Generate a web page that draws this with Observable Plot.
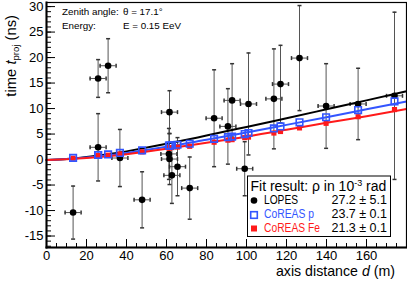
<!DOCTYPE html>
<html><head><meta charset="utf-8">
<script src="https://cdn.jsdelivr.net/npm/d3@7"></script>
<script src="https://cdn.jsdelivr.net/npm/@observablehq/plot@0.6"></script>
<style>
body{margin:0;background:#fff}
#chart{width:407px;height:281px}
svg text{font-family:"Liberation Sans",Arial,Helvetica,sans-serif}
</style>
</head><body><div id="chart"></div>
<script>
// antenna axis distances (m) and their uncertainties
const antennaDist = [13.3, 25.8, 25.8, 30.8, 36.7, 47.8, 61.5, 61.2, 61.5, 62.7, 65.5, 71.6, 83.8, 90.7, 92.8, 99.1, 101, 113.7, 117, 126.5, 139.8, 155.8, 174];
const distErr     = [4, 4, 4, 4, 4, 4, 4, 4, 4, 4, 4, 4, 4, 4, 4, 4, 4, 4, 4, 4, 4, 4, 4];
// LOPES measured times (ns) and uncertainties
const lopesTime = [-10.4, 2.4, 15.9, 18.4, 0.3, -7.9, 9.3, 1.1, 0.1, -3.1, -1.4, -5.6, 8.1, 6.5, 11.6, -1.8, 10.9, 11.9, 14.8, 19.9, 10.5, 10.9, 12.5];
const lopesErr  = [5.2, 6.6, 3.7, 5.3, 5.6, 5.5, 4.2, 5.0, 5.0, 5.5, 5.7, 6.1, 9.5, 7.4, 7.2, 5.3, 10, 9.8, 7.6, 10.3, 8.3, 7.0, 16.4];
// CoREAS simulations
const coreasP  = [0.33, 0.9, 0.9, 1.0, 1.3, 1.8, 2.75, 2.7, 2.75, 2.8, 2.9, 3.1, 4.05, 4.4, 4.5, 5.0, 5.2, 6.1, 6.5, 7.3, 8.3, 9.7, 11.4];
const coreasFe = [0.25, 0.75, 0.75, 0.85, 1.1, 1.5, 2.3, 2.25, 2.3, 2.35, 2.45, 2.6, 3.4, 3.8, 3.9, 4.3, 4.4, 5.2, 5.5, 6.2, 7.1, 8.4, 9.8];
// fitted wavefronts
const fitDist  = [0, 10, 20, 30, 40, 60, 80, 100, 120, 140, 160, 180];
const lopesFit = [-0.1, 0.1, 0.5, 1.0, 1.6, 3.1, 4.7, 6.4, 8.1, 9.85, 11.6, 13.4];
const pFit     = [-0.1, 0.1, 0.4, 0.8, 1.3, 2.5, 3.9, 5.3, 6.8, 8.3, 9.85, 11.4];
const feFit    = [-0.1, 0.08, 0.3, 0.65, 1.05, 2.1, 3.3, 4.5, 5.85, 7.2, 8.5, 9.9];
// ticks
const xMajor = [0, 20, 40, 60, 80, 100, 120, 140, 160];
const xMinor = d3.range(0, 181, 5);
const yMajor = [-15, -10, -5, 0, 5, 10, 15, 20, 25, 30];
const yMinor = d3.range(-17, 31, 1);
// legend
const legendLabels = ["LOPES", "CoREAS p", "CoREAS Fe"];
const legendValues = ["27.2 ± 5.1", "23.7 ± 0.1", "21.3 ± 0.1"];

const blue = "#3355ff", red = "#ff1a1a";
const rows = antennaDist.map((d, i) => ({d, dErr: distErr[i], t: lopesTime[i], tErr: lopesErr[i], p: coreasP[i], fe: coreasFe[i]}));
const fit = fitDist.map((d, i) => ({d, lopes: lopesFit[i], p: pFit[i], fe: feFit[i]}));

const hCap = {draw(ctx, size) { const r = Math.sqrt(size / Math.PI); ctx.moveTo(-r, 0); ctx.lineTo(r, 0); }};
const vCap = {draw(ctx, size) { const r = Math.sqrt(size / Math.PI); ctx.moveTo(0, -r); ctx.lineTo(0, r); }};

const W = 407, H = 281, ML = 46, MR = 1, MT = 2, MB = 34;
const iw = W - ML - MR, ih = H - MT - MB;

const plot = Plot.plot({
  width: W, height: H, marginLeft: ML, marginRight: MR, marginTop: MT, marginBottom: MB,
  x: {domain: [0, 180]},
  y: {domain: [-17.25, 30.8]},
  style: {fontFamily: "Liberation Sans, Arial, sans-serif", background: "white", color: "black"},
  marks: [
    Plot.tickY(yMinor, {y: d => d, insetRight: iw - 5, stroke: "black"}),
    Plot.tickY(yMajor, {y: d => d, insetRight: iw - 9, stroke: "black"}),
    Plot.tickX(xMinor, {x: d => d, insetTop: ih - 4, stroke: "black"}),
    Plot.tickX(xMajor, {x: d => d, insetTop: ih - 8, stroke: "black"}),
    Plot.axisY({ticks: yMajor, tickSize: 0, tickPadding: 3, fontSize: 13, tickFormat: d => String(d), label: null}),
    Plot.axisX({ticks: xMajor, tickSize: 0, tickPadding: 3, fontSize: 13, tickFormat: d => String(d), label: null}),
    Plot.ruleX(rows, {x: "d", y1: d => d.t - d.tErr, y2: d => d.t + d.tErr, stroke: "#555", strokeWidth: 1}),
    Plot.ruleY(rows, {y: "t", x1: d => d.d - d.dErr, x2: d => d.d + d.dErr, stroke: "#555", strokeWidth: 1}),
    Plot.dot(rows, {x: "d", y: d => d.t - d.tErr, symbol: hCap, r: 2, stroke: "#333"}),
    Plot.dot(rows, {x: "d", y: d => d.t + d.tErr, symbol: hCap, r: 2, stroke: "#333"}),
    Plot.dot(rows, {x: d => d.d - d.dErr, y: "t", symbol: vCap, r: 2, stroke: "#333"}),
    Plot.dot(rows, {x: d => d.d + d.dErr, y: "t", symbol: vCap, r: 2, stroke: "#333"}),
    Plot.line(fit, {x: "d", y: "lopes", stroke: "black", strokeWidth: 2, curve: "natural"}),
    Plot.line(fit, {x: "d", y: "p", stroke: blue, strokeWidth: 2, curve: "natural"}),
    Plot.line(fit, {x: "d", y: "fe", stroke: red, strokeWidth: 2, curve: "natural"}),
    Plot.dot(rows, {x: "d", y: "t", r: 3.3, fill: "black"}),
    Plot.dot(rows, {x: "d", y: "fe", symbol: "square", r: 2.9, fill: red}),
    Plot.dot(rows, {x: "d", y: "p", symbol: "square", r: 3.7, stroke: blue, strokeWidth: 1.6, fill: "none"}),
    Plot.frame({stroke: "black", strokeWidth: 1.2}),
    Plot.frame({anchor: "left", stroke: "black", strokeWidth: 2}),
    Plot.frame({anchor: "bottom", stroke: "black", strokeWidth: 2})
  ]
});

document.getElementById("chart").appendChild(plot);
const svg = d3.select(plot);

// annotations
const ann = svg.append("g").attr("font-size", 9.8).attr("fill", "black").attr("text-anchor", "start");
ann.append("text").attr("x", 62).attr("y", 15).text("Zenith angle:");
ann.append("text").attr("x", 123).attr("y", 15).text("θ = 17.1°");
ann.append("text").attr("x", 62).attr("y", 28.5).text("Energy:");
ann.append("text").attr("x", 123).attr("y", 28.5).text("E = 0.15 EeV");

// y label
const yl = svg.append("text").attr("transform", "translate(16,15) rotate(-90)")
  .attr("text-anchor", "end").attr("font-size", 14.8).attr("fill", "black");
yl.append("tspan").text("time ");
yl.append("tspan").attr("font-style", "italic").text("t");
yl.append("tspan").attr("font-size", 9.5).attr("dy", 3).text("proj");
yl.append("tspan").attr("dy", -3).text(" (ns)");

// x label
const xl = svg.append("text").attr("x", 395).attr("y", 276)
  .attr("text-anchor", "end").attr("font-size", 14.2).attr("fill", "black");
xl.append("tspan").text("axis distance ");
xl.append("tspan").attr("font-style", "italic").text("d");
xl.append("tspan").text(" (m)");

// legend
const lg = svg.append("g").attr("text-anchor", "start");
lg.append("rect").attr("x", 247.5).attr("y", 176).attr("width", 143).attr("height", 60.5)
  .attr("fill", "white").attr("stroke", "black").attr("stroke-width", 1);
const tt = lg.append("text").attr("x", 250.5).attr("y", 191).attr("font-size", 14).attr("fill", "black");
tt.append("tspan").text("Fit result: ρ in 10");
tt.append("tspan").attr("font-size", 9).attr("dy", -5).text("-3");
tt.append("tspan").attr("dy", 5).text(" rad");
const colors = ["black", blue, red];
const baselines = [204, 218, 232];
const labelWidths = [34, 50, 56];
legendLabels.forEach((lab, i) => {
  lg.append("text").attr("x", 264).attr("y", baselines[i]).attr("font-size", 12.5)
    .attr("textLength", labelWidths[i]).attr("lengthAdjust", "spacingAndGlyphs")
    .attr("fill", colors[i]).text(lab);
  lg.append("text").attr("x", 387).attr("y", baselines[i]).attr("font-size", 12.5).attr("text-anchor", "end").attr("fill", "black").text(legendValues[i]);
});
lg.append("circle").attr("cx", 254).attr("cy", 200.5).attr("r", 3.3).attr("fill", "black");
lg.append("rect").attr("x", 250.7).attr("y", 211.7).attr("width", 6.6).attr("height", 6.6).attr("fill", "none").attr("stroke", blue).attr("stroke-width", 1.6);
lg.append("rect").attr("x", 251).attr("y", 225.5).attr("width", 6).attr("height", 6).attr("fill", red);
</script>
</body></html>
